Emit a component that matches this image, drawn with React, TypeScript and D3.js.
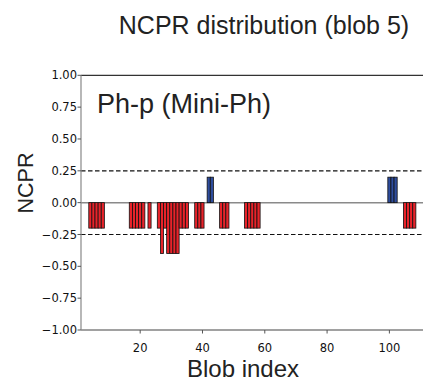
// NCPR per-blob bar chart, drawn with D3 into a fixed-size svg
import { useEffect, useRef } from 'react';
import * as d3 from 'd3';

const WIDTH = 423;
const HEIGHT = 383;

// blob indices and their NCPR values
const blobIndex = [
  4, 5, 6, 7, 8,
  17, 18, 19, 20, 21,
  23,
  26, 27, 28, 29, 30, 31, 32, 33, 34, 35,
  38, 39, 40,
  42, 43,
  46, 47, 48,
  54, 55, 56, 57, 58,
  100, 101, 102,
  105, 106, 107, 108,
];
const ncpr = [
  -0.2, -0.2, -0.2, -0.2, -0.2,
  -0.2, -0.2, -0.2, -0.2, -0.2,
  -0.2,
  -0.2, -0.4, -0.2, -0.4, -0.4, -0.4, -0.4, -0.2, -0.2, -0.2,
  -0.2, -0.2, -0.2,
  0.2, 0.2,
  -0.2, -0.2, -0.2,
  -0.2, -0.2, -0.2, -0.2, -0.2,
  0.2, 0.2, 0.2,
  -0.2, -0.2, -0.2, -0.2,
];
const yTicks = [1, 0.75, 0.5, 0.25, 0, -0.25, -0.5, -0.75, -1];
const xTicks = [20, 40, 60, 80, 100];
const thresholds = [0.25, -0.25];

const title = 'NCPR distribution (blob 5)';
const label = 'Ph-p (Mini-Ph)';

const App = () => {
  const svgRef = useRef<SVGSVGElement>(null);

  useEffect(() => {
    if (!svgRef.current) return;
    const svg = d3.select(svgRef.current);
    svg.selectAll('*').remove();

    const x = d3.scaleLinear().domain([1, 112]).range([81, 81 + 111 * 3.115]);
    const y = d3.scaleLinear().domain([-1, 1]).range([330, 75.3]);
    const left = x(1);
    const right = WIDTH + 5;

    const fmt = (v: number) => d3.format('.2f')(Math.abs(v));

    // zero line
    svg.append('line')
      .attr('x1', left).attr('x2', right)
      .attr('y1', y(0)).attr('y2', y(0))
      .attr('stroke', '#8a8a8a')
      .attr('stroke-width', 1.5);

    // +/- 0.25 thresholds
    svg.selectAll('.thr')
      .data(thresholds)
      .enter().append('line')
      .attr('class', 'thr')
      .attr('x1', left).attr('x2', right)
      .attr('y1', d => y(d)).attr('y2', d => y(d))
      .attr('stroke', '#111')
      .attr('stroke-width', 1.2)
      .attr('stroke-dasharray', '4.5,2.5');

    // bars
    const bw = x(2) - x(1);
    svg.selectAll('.bar')
      .data(blobIndex)
      .enter().append('rect')
      .attr('class', 'bar')
      .attr('x', d => x(d) - bw / 2)
      .attr('width', bw)
      .attr('y', (d, i) => y(Math.max(0, ncpr[i])))
      .attr('height', (d, i) => Math.abs(y(ncpr[i]) - y(0)))
      .attr('fill', (d, i) => (ncpr[i] > 0 ? '#2e4d9e' : '#e8232a'))
      .attr('stroke', '#111')
      .attr('stroke-width', 0.8);

    // spines
    svg.append('line')
      .attr('x1', left).attr('x2', right)
      .attr('y1', y(1)).attr('y2', y(1))
      .attr('stroke', '#333').attr('stroke-width', 1.2);
    svg.append('line')
      .attr('x1', left).attr('x2', right)
      .attr('y1', y(-1)).attr('y2', y(-1))
      .attr('stroke', '#444').attr('stroke-width', 1.2);
    svg.append('line')
      .attr('x1', left).attr('x2', left)
      .attr('y1', y(1)).attr('y2', y(-1))
      .attr('stroke', '#888').attr('stroke-width', 1.2);

    // y ticks
    const yt = svg.append('g');
    yt.selectAll('line')
      .data(yTicks)
      .enter().append('line')
      .attr('x1', left - 3.5).attr('x2', left)
      .attr('y1', d => y(d)).attr('y2', d => y(d))
      .attr('stroke', '#555');
    yt.selectAll('text')
      .data(yTicks)
      .enter().append('text')
      .attr('x', left - 4)
      .attr('y', d => y(d))
      .attr('dy', '0.35em')
      .attr('text-anchor', 'end')
      .attr('font-family', 'DejaVu Sans')
      .attr('font-size', 11.5)
      .attr('fill', '#111')
      .text(d => (d < 0 ? '\u2212' : '') + fmt(d));

    // x ticks
    const xt = svg.append('g');
    xt.selectAll('line')
      .data(xTicks)
      .enter().append('line')
      .attr('x1', d => x(d)).attr('x2', d => x(d))
      .attr('y1', y(-1)).attr('y2', y(-1) + 3.5)
      .attr('stroke', '#555');
    xt.selectAll('text')
      .data(xTicks)
      .enter().append('text')
      .attr('x', d => x(d))
      .attr('y', y(-1) + 22)
      .attr('text-anchor', 'middle')
      .attr('font-family', 'DejaVu Sans')
      .attr('font-size', 11.5)
      .attr('fill', '#111')
      .text(d => String(d));

    // labels
    svg.append('text')
      .attr('x', 264).attr('y', 34)
      .attr('text-anchor', 'middle')
      .attr('font-family', 'Liberation Sans, Arial, sans-serif')
      .attr('font-size', 25)
      .attr('fill', '#222')
      .text(title);

    svg.append('text')
      .attr('x', 97).attr('y', 112.5)
      .attr('font-family', 'Liberation Sans, Arial, sans-serif')
      .attr('font-size', 27)
      .attr('fill', '#222')
      .text(label);

    svg.append('text')
      .attr('transform', `translate(33,183) rotate(-90)`)
      .attr('text-anchor', 'middle')
      .attr('font-family', 'Liberation Sans, Arial, sans-serif')
      .attr('font-size', 21.5)
      .attr('fill', '#222')
      .text('NCPR');

    svg.append('text')
      .attr('x', 243).attr('y', 377)
      .attr('text-anchor', 'middle')
      .attr('font-family', 'Liberation Sans, Arial, sans-serif')
      .attr('font-size', 24)
      .attr('fill', '#222')
      .text('Blob index');
  }, []);

  return (
    <div style={{ position: 'absolute', left: 0, top: 0 }}>
      <svg ref={svgRef} width={WIDTH} height={HEIGHT} style={{ display: 'block', background: '#fff' }} />
    </div>
  );
};

export default App;
